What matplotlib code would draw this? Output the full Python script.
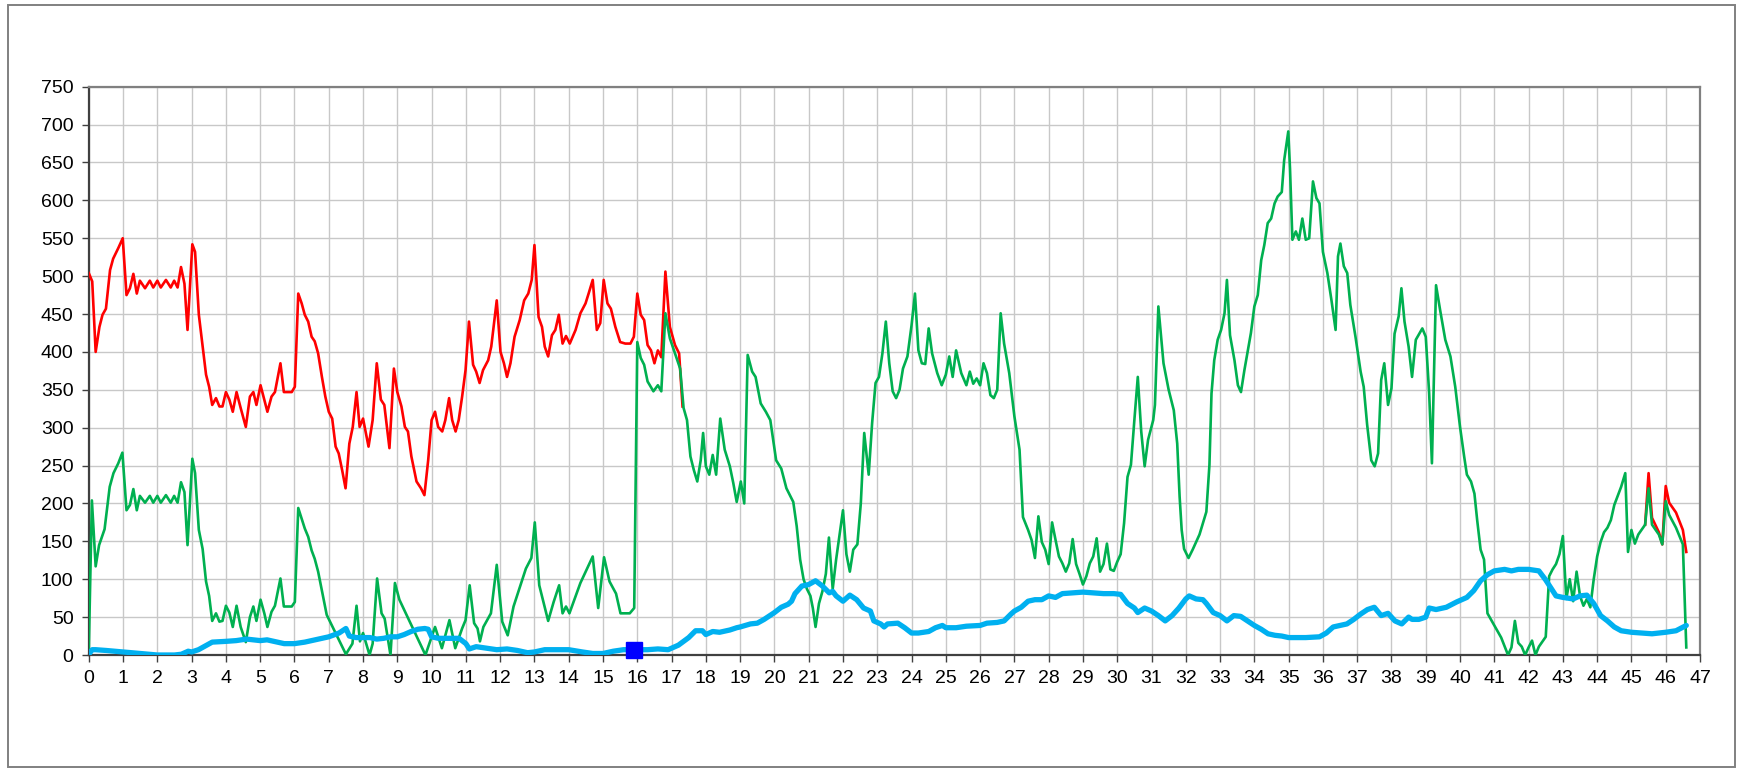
import matplotlib
matplotlib.use("Agg")
import matplotlib.pyplot as plt
from matplotlib.patches import Rectangle

# ---------------- data ----------------
red_x = [0.0, 0.1, 0.2, 0.31, 0.4, 0.5, 0.62, 0.71, 0.86, 0.99, 1.1, 1.2, 1.3, 1.4, 1.49, 1.64, 1.78, 1.88,
         2.0, 2.1, 2.25, 2.39, 2.49, 2.59, 2.69, 2.79, 2.88, 3.02, 3.1, 3.21, 3.32, 3.42, 3.51, 3.6, 3.71,
         3.81, 3.9, 4.0, 4.1, 4.2, 4.31, 4.43, 4.58, 4.7, 4.8, 4.89, 5.01, 5.12, 5.21, 5.33, 5.43, 5.59,
         5.69, 5.82, 5.92, 6.01, 6.11, 6.21, 6.3, 6.4, 6.5, 6.59, 6.69, 6.8, 6.9, 7.0, 7.1, 7.2, 7.29,
         7.39, 7.49, 7.6, 7.7, 7.81, 7.9, 8.0, 8.16, 8.28, 8.4, 8.52, 8.62, 8.77, 8.9, 9.0, 9.12, 9.22,
         9.31, 9.41, 9.56, 9.69, 9.79, 9.9, 10.0, 10.1, 10.19, 10.31, 10.4, 10.51, 10.6, 10.7, 10.79,
         10.89, 10.99, 11.09, 11.21, 11.3, 11.4, 11.5, 11.65, 11.74, 11.9, 12.01, 12.11, 12.2, 12.3,
         12.42, 12.57, 12.7, 12.82, 12.92, 13.0, 13.12, 13.22, 13.3, 13.4, 13.51, 13.61, 13.71, 13.82,
         13.92, 14.03, 14.2, 14.34, 14.49, 14.58, 14.7, 14.82, 14.92, 15.02, 15.13, 15.23, 15.36, 15.5,
         15.65, 15.8, 15.9, 16.0, 16.1, 16.2, 16.3, 16.4, 16.5, 16.6, 16.7, 16.82, 16.95, 17.1, 17.22,
         17.32]
red_y = [504, 493, 400, 433, 449, 457, 508, 523, 537, 550, 475, 484, 503, 477, 494, 484, 494, 485,
         494, 485, 495, 485, 494, 485, 512, 490, 429, 542, 532, 449, 407, 370, 354, 330, 339,
         328, 328, 347, 337, 321, 347, 326, 301, 341, 347, 330, 356, 337, 321, 341, 347, 385,
         347, 347, 347, 354, 477, 464, 449, 440, 420, 414, 398, 367, 341, 321, 312, 275, 266,
         244, 220, 279, 301, 347, 301, 312, 275, 310, 385, 337, 330, 273, 378, 347, 328, 301,
         295, 262, 229, 220, 211, 257, 310, 321, 301, 295, 310, 339, 310, 295, 310,
         341, 376, 440, 383, 374, 359, 376, 389, 407, 468, 400, 385, 367, 385,
         420, 442, 468, 477, 495, 541, 446, 433, 407, 394, 422, 429, 449, 411,
         421, 411, 429, 451, 464, 477, 495, 429, 438, 495, 464, 457, 433, 413,
         411, 411, 420, 477, 449, 442, 409, 402, 385, 402, 393, 506, 433, 409, 398,
         328]

red_tail_x = [45.4, 45.5, 45.6, 45.8, 45.9, 46.0, 46.1, 46.3, 46.5, 46.6]
red_tail_y = [172, 240, 181, 162, 146, 223, 201, 188, 165, 136]

green_x = [0.0, 0.09, 0.2, 0.3, 0.46, 0.61, 0.72, 0.86, 0.98, 1.1, 1.2, 1.3, 1.4, 1.49, 1.64, 1.78, 1.88,
           2.0, 2.1, 2.25, 2.39, 2.49, 2.59, 2.69, 2.79, 2.88, 3.02, 3.1, 3.21, 3.32, 3.42, 3.51, 3.6,
           3.71, 3.81, 3.9, 4.0, 4.1, 4.2, 4.31, 4.43, 4.58, 4.7, 4.8, 4.89, 5.01, 5.12, 5.21, 5.33,
           5.43, 5.59, 5.69, 5.82, 5.92, 6.01, 6.11, 6.21, 6.3, 6.4, 6.5, 6.59, 6.69, 6.8, 6.94, 7.5,
           7.69, 7.81, 7.91, 8.0, 8.19, 8.28, 8.41, 8.54, 8.63, 8.8, 8.93, 9.06, 9.82, 10.1, 10.3,
           10.52, 10.69, 10.89, 10.99, 11.11, 11.24, 11.34, 11.41, 11.51, 11.73, 11.9, 12.06, 12.22,
           12.39, 12.75, 12.91, 13.01, 13.14, 13.4, 13.56, 13.72, 13.82, 13.92, 14.02, 14.34, 14.7,
           14.86, 15.03, 15.19, 15.38, 15.51, 15.78, 15.91, 16.0, 16.1, 16.2, 16.3, 16.47, 16.6, 16.7,
           16.82, 16.95, 17.1, 17.25, 17.35, 17.45, 17.55, 17.65, 17.75, 17.85, 17.92, 18.0, 18.1,
           18.2, 18.3, 18.42, 18.55, 18.7, 18.8, 18.9, 19.02, 19.12, 19.22, 19.35, 19.45, 19.6, 19.75,
           19.88, 20.05, 20.2, 20.35, 20.55, 20.65, 20.75, 20.85, 20.95, 21.05, 21.12, 21.2, 21.3,
           21.4, 21.5, 21.59, 21.7, 21.8, 22.0, 22.1, 22.2, 22.3, 22.42, 22.52, 22.62, 22.75, 22.85,
           22.95, 23.05, 23.15, 23.25, 23.35, 23.45, 23.55, 23.65, 23.75, 23.88, 24.0, 24.1, 24.2,
           24.3, 24.4, 24.5, 24.6, 24.75, 24.88, 25.0, 25.1, 25.2, 25.3, 25.45, 25.6, 25.7, 25.8,
           25.9, 26.0, 26.1, 26.2, 26.3, 26.4, 26.5, 26.6, 26.7, 26.85, 27.0, 27.15, 27.25, 27.4,
           27.5, 27.6, 27.7, 27.8, 27.9, 28.0, 28.1, 28.2, 28.3, 28.4, 28.5, 28.6, 28.7, 28.8, 28.9,
           29.0, 29.1, 29.2, 29.3, 29.4, 29.5, 29.6, 29.7, 29.8, 29.9, 30.0, 30.1, 30.2, 30.3, 30.4,
           30.5, 30.6, 30.7, 30.8, 30.9, 31.05, 31.1, 31.2, 31.35, 31.5, 31.65, 31.75, 31.82, 31.88,
           31.95, 32.08, 32.2, 32.3, 32.4, 32.5, 32.6, 32.69, 32.75, 32.83, 32.93, 33.03, 33.13, 33.2,
           33.29, 33.42, 33.52, 33.61, 33.71, 33.81, 33.9, 34.0, 34.1, 34.2, 34.29, 34.39, 34.49,
           34.59, 34.68, 34.8, 34.87, 34.99, 35.04, 35.11, 35.21, 35.3, 35.4, 35.5, 35.6, 35.71,
           35.81, 35.9, 36.0, 36.13, 36.25, 36.37, 36.44, 36.51, 36.61, 36.71, 36.8, 36.95, 37.1,
           37.19, 37.29, 37.41, 37.51, 37.61, 37.7, 37.79, 37.9, 38.0, 38.09, 38.21, 38.29, 38.38,
           38.5, 38.6, 38.71, 38.8, 38.9, 39.0, 39.1, 39.18, 39.3, 39.42, 39.57, 39.72, 39.86, 40.0,
           40.12, 40.2, 40.32, 40.42, 40.5, 40.6, 40.7, 40.8, 41.0, 41.2, 41.4, 41.5, 41.6, 41.7,
           41.8, 41.9, 42.0, 42.1, 42.2, 42.3, 42.5, 42.6, 42.7, 42.8, 42.9, 43.0, 43.1, 43.2, 43.3,
           43.4, 43.5, 43.6, 43.7, 43.8, 43.9, 44.0, 44.1, 44.2, 44.3, 44.4, 44.5, 44.6, 44.7, 44.82,
           44.9, 45.0, 45.1, 45.2, 45.4, 45.5, 45.6, 45.8, 45.9, 46.0, 46.1, 46.3, 46.5, 46.6]
green_y = [7, 204, 117, 145, 166, 222, 240, 253, 267, 191, 198, 219, 191, 210, 201, 210, 201,
           210, 201, 211, 201, 210, 201, 228, 215, 145, 259, 240, 165, 140, 97, 78, 45,
           55, 44, 45, 65, 56, 37, 65, 37, 17, 50, 64, 45, 73, 55, 37, 57,
           65, 101, 64, 64, 64, 70, 194, 180, 167, 156, 138, 127, 110, 85, 53, 1,
           15, 65, 18, 29, 0, 15, 101, 55, 48, 0, 95, 73, 0, 37, 9,
           46, 9, 35, 46, 92, 42, 35, 18, 37, 55, 119, 44, 26,
           64, 114, 128, 175, 92, 45, 70, 92, 55, 64, 55, 95, 130,
           62, 129, 97, 81, 55, 55, 62, 413, 392, 383, 361, 348, 356, 348,
           451, 418, 398, 378, 326, 310, 262, 244, 229, 257, 293, 249, 238,
           264, 238, 312, 271, 249, 227, 202, 229, 200, 396, 374, 367, 332, 321,
           310, 257, 246, 220, 202, 170, 126, 100, 87, 78, 62, 37, 68,
           84, 107, 155, 87, 126, 191, 133, 110, 139, 146, 200, 293, 238, 306,
           359, 367, 398, 440, 385, 348, 339, 350, 378, 394, 435, 477, 402,
           385, 384, 431, 398, 372, 356, 370, 394, 367, 402, 372, 356, 374, 358,
           365, 356, 385, 372, 343, 339, 350, 451, 411, 372, 315, 271, 182, 165,
           152, 128, 183, 149, 139, 120, 175, 152, 130, 121, 110, 121, 153, 120, 107,
           93, 104, 121, 130, 154, 110, 120, 147, 113, 111, 123, 133, 174, 235, 251,
           310, 367, 295, 249, 284, 310, 330, 460, 385, 350, 323, 279, 209, 165,
           140, 128, 139, 149, 159, 174, 189, 251, 345, 389, 416, 429, 451, 495,
           422, 389, 356, 347, 376, 402, 425, 460, 475, 521, 541, 570, 576,
           596, 605, 611, 653, 691, 642, 548, 559, 548, 576, 548, 550, 625,
           603, 596, 532, 504, 468, 429, 526, 543, 513, 504, 462, 420, 374,
           354, 304, 257, 249, 266, 363, 385, 330, 352, 424, 447, 484, 440,
           407, 367, 416, 423, 431, 420, 345, 253, 488, 455, 416, 394, 354, 301,
           262, 238, 229, 213, 178, 139, 126, 55, 39, 23, 0, 10, 45, 16,
           11, 0, 10, 19, 0, 11, 24, 104, 113, 120, 133, 157, 74, 100, 71,
           110, 78, 65, 74, 63, 100, 130, 149, 162, 168, 178, 198, 210, 222, 240,
           136, 165, 147, 159, 172, 220, 172, 159, 146, 203, 185, 168, 146, 10]

cyan_x = [0.0, 0.1, 0.2, 0.5, 1.0, 1.5, 2.0, 2.5, 2.7, 2.9, 3.0, 3.2, 3.4, 3.6, 4.0, 4.3, 4.6, 5.0, 5.2,
          5.5, 5.7, 6.0, 6.3, 6.6, 7.0, 7.3, 7.5, 7.6, 7.8, 8.0, 8.2, 8.4, 8.6, 8.8, 9.0, 9.2, 9.4,
          9.6, 9.8, 9.9, 10.0, 10.2, 10.5, 10.8, 11.0, 11.1, 11.3, 11.6, 11.9, 12.2, 12.5, 12.8, 13.0,
          13.3, 13.6, 14.0, 14.4, 14.7, 15.0, 15.3, 15.6, 16.0, 16.3, 16.6, 16.9, 17.2, 17.5, 17.7,
          17.9, 18.0, 18.2, 18.4, 18.5, 18.7, 18.9, 19.0, 19.3, 19.5, 19.7, 20.0, 20.2, 20.4, 20.5,
          20.6, 20.8, 21.0, 21.2, 21.4, 21.6, 21.7, 21.8, 22.0, 22.2, 22.4, 22.6, 22.8, 22.9, 23.1,
          23.2, 23.3, 23.6, 23.8, 24.0, 24.2, 24.5, 24.7, 24.9, 25.0, 25.3, 25.6, 26.0, 26.2, 26.5,
          26.7, 26.9, 27.0, 27.2, 27.4, 27.6, 27.8, 28.0, 28.2, 28.4, 28.7, 29.0, 29.3, 29.6, 29.9,
          30.1, 30.3, 30.5, 30.6, 30.8, 31.0, 31.2, 31.4, 31.6, 31.8, 32.0, 32.1, 32.3, 32.5, 32.6,
          32.8, 33.0, 33.2, 33.4, 33.6, 33.8, 34.0, 34.2, 34.4, 34.6, 34.8, 35.0, 35.5, 35.9, 36.1,
          36.3, 36.5, 36.7, 36.9, 37.1, 37.3, 37.5, 37.7, 37.9, 38.1, 38.3, 38.5, 38.6, 38.8, 39.0,
          39.1, 39.3, 39.6, 39.9, 40.2, 40.4, 40.6, 40.8, 41.0, 41.3, 41.5, 41.7, 42.0, 42.3, 42.5,
          42.8, 43.0, 43.3, 43.5, 43.7, 43.9, 44.1, 44.3, 44.5, 44.7, 45.0, 45.3, 45.6, 46.0, 46.3,
          46.6]
cyan_y = [1, 7, 7, 6, 4, 2, 0, 0, 1, 5, 4, 7, 12, 17, 18, 19, 21, 19, 20,
          17, 15, 15, 17, 20, 24, 29, 35, 25, 23, 23, 23, 21, 22, 24, 24, 27, 31,
          34, 35, 34, 24, 22, 22, 22, 15, 8, 11, 9, 7, 8, 6, 3, 4,
          7, 7, 7, 4, 2, 2, 5, 7, 7, 7, 8, 7, 13, 23, 32,
          32, 27, 31, 30, 31, 33, 36, 37, 41, 42, 47, 56, 63, 67, 71,
          81, 91, 93, 98, 91, 82, 84, 78, 71, 79, 73, 62, 58, 45, 41,
          37, 41, 42, 36, 29, 29, 31, 36, 39, 36, 36, 38, 39, 42, 43,
          45, 54, 58, 63, 71, 73, 73, 78, 76, 81, 82, 83, 82, 81, 81,
          80, 68, 62, 56, 62, 58, 52, 45, 52, 62, 74, 78, 74, 73, 68,
          56, 52, 45, 52, 51, 45, 39, 34, 28, 26, 25, 23, 23, 24, 29,
          37, 39, 41, 47, 54, 60, 63, 52, 55, 45, 41, 50, 47, 47, 50,
          62, 60, 63, 70, 76, 85, 98, 106, 111, 113, 111, 113, 113, 111, 99,
          78, 76, 74, 78, 79, 68, 52, 45, 37, 32, 30, 29, 28, 30, 32,
          39]

marker_x = [15.9]
marker_y = [6.5]

x_ticks = list(range(0, 48))
y_ticks = list(range(0, 751, 50))

# ---------------- figure ----------------
plt.rcParams['font.family'] = ['Liberation Sans', 'DejaVu Sans']
fig = plt.figure(figsize=(17.41, 7.69), dpi=100)
fig.patch.set_facecolor('white')
ax = fig.add_axes([88.8 / 1741, 1 - 655 / 769, (1700 - 88.8) / 1741, (655 - 86.7) / 769])

ax.set_xlim(0, 47)
ax.set_ylim(0, 750)
ax.set_xticks(x_ticks)
ax.set_yticks(y_ticks)
ax.set_xticklabels([str(v) for v in x_ticks])
ax.set_yticklabels([str(v) for v in y_ticks])
ax.grid(True, color='#C8C8C8', linewidth=1.0)
ax.set_axisbelow(True)

ax.plot(red_x, red_y, color='#FF0000', linewidth=1.9, zorder=3, solid_joinstyle='round')
ax.plot(red_tail_x, red_tail_y, color='#FF0000', linewidth=1.9, zorder=3, solid_joinstyle='round')
ax.plot(green_x, green_y, color='#00B050', linewidth=1.9, zorder=4, solid_joinstyle='round')
ax.plot(cyan_x, cyan_y, color='#00B0F0', linewidth=3.8, zorder=5, solid_joinstyle='round',
        solid_capstyle='round')
ax.plot(marker_x, marker_y, linestyle='none', marker='s', markersize=12, color='#0000FF',
        zorder=6, clip_on=False)

for side in ('top', 'right'):
    ax.spines[side].set_color('#808080')
    ax.spines[side].set_linewidth(1.6)
for side in ('left', 'bottom'):
    ax.spines[side].set_color('#404040')
    ax.spines[side].set_linewidth(1.6)

ax.tick_params(axis='both', direction='out', length=5, width=1.0, color='#404040',
               labelsize=14, labelcolor='black')
ax.tick_params(axis='y', pad=6)
ax.tick_params(axis='x', pad=6)

fig.add_artist(Rectangle((8 / 1741, 1 - 767 / 769), (1735 - 8) / 1741, (767 - 5) / 769,
                         transform=fig.transFigure, fill=False, edgecolor='#808080', linewidth=1.4))

fig.savefig('out.png', dpi=100, facecolor='white')
